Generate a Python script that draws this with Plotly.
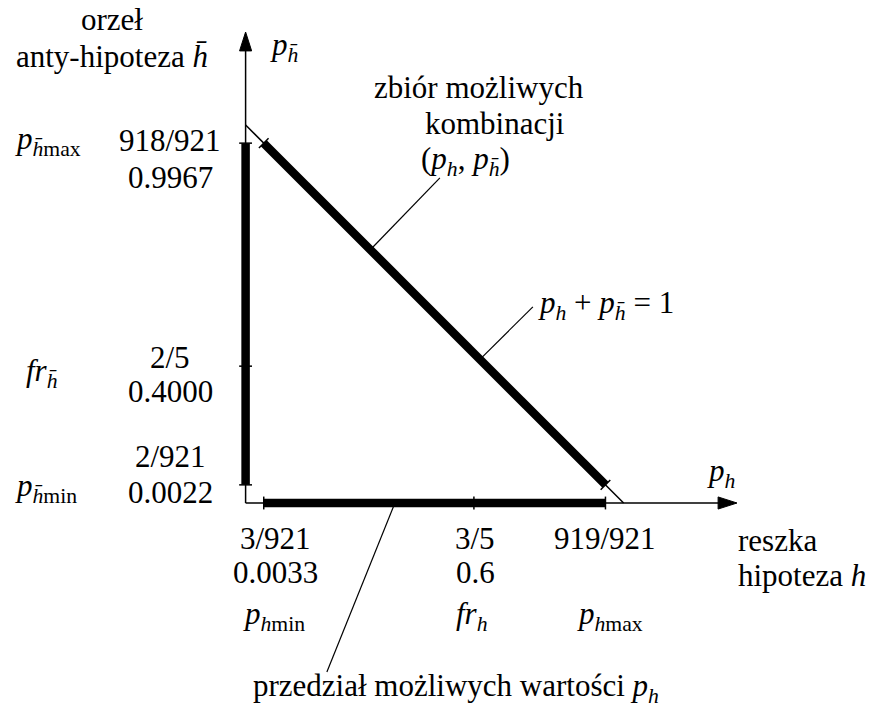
import plotly.graph_objects as go

# Fractions and decimals printed beside the axes
x_fracs = ["3/921", "3/5", "919/921"]
x_decimals = ["0.0033", "0.6", ""]
x_names = ["<i>p</i><sub><i>h</i>min</sub>", "<i>fr</i><sub><i>h</i></sub>",
           "<i>p</i><sub><i>h</i>max</sub>"]

HB = "h\u0304"  # h with a macron (anti-hypothesis)
y_fracs = ["918/921", "2/5", "2/921"]
y_decimals = ["0.9967", "0.4000", "0.0022"]
y_names = [f"<i>p</i><sub><i>{HB}</i>max</sub>", f"<i>fr</i><sub><i>{HB}</i></sub>",
           f"<i>p</i><sub><i>{HB}</i>min</sub>"]

# Schematic (not to scale) positions of the marks along each axis
x_marks = [0.048, 0.604, 0.952]     # p_h min, fr_h, p_h max
y_marks = [0.952, 0.362, 0.048]     # p_hbar max, fr_hbar, p_hbar min

FONT = "Liberation Serif"
FS = 31
BLACK = "#000000"

W, H = 870, 707
UNIT = 378.0              # pixels per diagram unit
OX, OY = 245.6, 503.0     # origin in page pixels

fig = go.Figure()


def seg(x0, y0, x1, y1, width):
    fig.add_trace(go.Scatter(x=[x0, x1], y=[y0, y1], mode="lines",
                             line=dict(color=BLACK, width=width),
                             hoverinfo="skip", showlegend=False))


def tri(xs, ys):
    fig.add_trace(go.Scatter(x=xs, y=ys, mode="lines", fill="toself",
                             fillcolor=BLACK, line=dict(color=BLACK, width=1),
                             hoverinfo="skip", showlegend=False))


THIN = 1.5
THICK = 8.5
CAP = 0.017
x_tip, y_tip = 1.300, 1.246
head_len, head_half = 0.05, 0.016

# axes with arrowheads
seg(0, 0, x_tip - 0.01, 0, THIN)
seg(0, 0, 0, y_tip - 0.01, THIN)
tri([x_tip, x_tip - head_len, x_tip - head_len, x_tip], [0, head_half, -head_half, 0])
tri([0, head_half, -head_half, 0], [y_tip, y_tip - head_len, y_tip - head_len, y_tip])

# the constraint line p_h + p_hbar = 1
seg(0, 1, 1, 0, THIN)

# intervals of admissible values
seg(x_marks[0], 0, x_marks[2], 0, THICK)
seg(0, y_marks[2], 0, y_marks[0], THICK)
seg(x_marks[0], y_marks[0], x_marks[2], y_marks[2], THICK)

# end caps and mid ticks
for xm in x_marks:
    seg(xm, -CAP, xm, CAP, THIN)
for ym in y_marks:
    seg(-CAP, ym, CAP, ym, THIN)
d = CAP * 0.75
for xm, ym in [(x_marks[0], y_marks[0]), (x_marks[2], y_marks[2])]:
    seg(xm - d, ym - d, xm + d, ym + d, THIN)

# leader lines to the callouts
seg(0.514, 0.860, 0.330, 0.670, 1.2)
seg(0.760, 0.519, 0.620, 0.380, 1.2)
seg(0.395, 0.0, 0.215, -0.447, 1.2)

ann = []


def txt(x, y, s, xa="center", ya="middle"):
    ann.append(dict(x=x, y=y, text=s, showarrow=False, xanchor=xa, yanchor=ya,
                    font=dict(family=FONT, size=FS, color=BLACK)))


# labels under the horizontal axis
x_label_pos = [0.078, 0.608, 0.950]
x_name_pos = [0.075, 0.600, 0.964]
for i in range(3):
    txt(x_label_pos[i], -0.093, x_fracs[i])
    if x_decimals[i]:
        txt(x_label_pos[i], -0.183, x_decimals[i])
    txt(x_name_pos[i], -0.300, x_names[i])

# labels left of the vertical axis
y_frac_pos = [0.958, 0.386, 0.124]
y_dec_pos = [0.862, 0.296, 0.029]
y_name_pos = [0.958, 0.345, 0.040]
for i in range(3):
    txt(-0.200, y_frac_pos[i], y_fracs[i])
    txt(-0.200, y_dec_pos[i], y_decimals[i])
    txt(-0.615 if i != 1 else -0.585, y_name_pos[i], y_names[i], xa="left")

# axis titles
txt(-0.353, 1.278, "orzeł")
txt(-0.353, 1.180, f"anty-hipoteza <i>{HB}</i>")
txt(0.059, 1.206, f"<i>p</i><sub><i>{HB}</i></sub>", xa="left")
txt(1.215, 0.079, "<i>p</i><sub><i>h</i></sub>", xa="left")
txt(1.298, -0.098, "reszka", xa="left")
txt(1.298, -0.193, "hipoteza <i>h</i>", xa="left")

# callouts
txt(0.617, 1.098, "zbiór możliwych")
txt(0.660, 1.005, "kombinacji")
txt(0.583, 0.905, f"(<i>p</i><sub><i>h</i></sub>, <i>p</i><sub><i>{HB}</i></sub>)")
txt(0.769, 0.524, f"<i>p</i><sub><i>h</i></sub> + <i>p</i><sub><i>{HB}</i></sub> = 1", xa="left")
txt(0.557, -0.489, "przedział możliwych wartości <i>p</i><sub><i>h</i></sub>")

fig.update_layout(
    width=W, height=H, autosize=False,
    margin=dict(l=0, r=0, t=0, b=0, pad=0),
    paper_bgcolor="white", plot_bgcolor="white",
    font=dict(family=FONT, size=FS, color=BLACK),
    annotations=ann,
    xaxis=dict(range=[-OX / UNIT, (W - OX) / UNIT], visible=False, fixedrange=True),
    yaxis=dict(range=[(OY - H) / UNIT, OY / UNIT], visible=False, fixedrange=True),
)

fig.write_html("out.html")
